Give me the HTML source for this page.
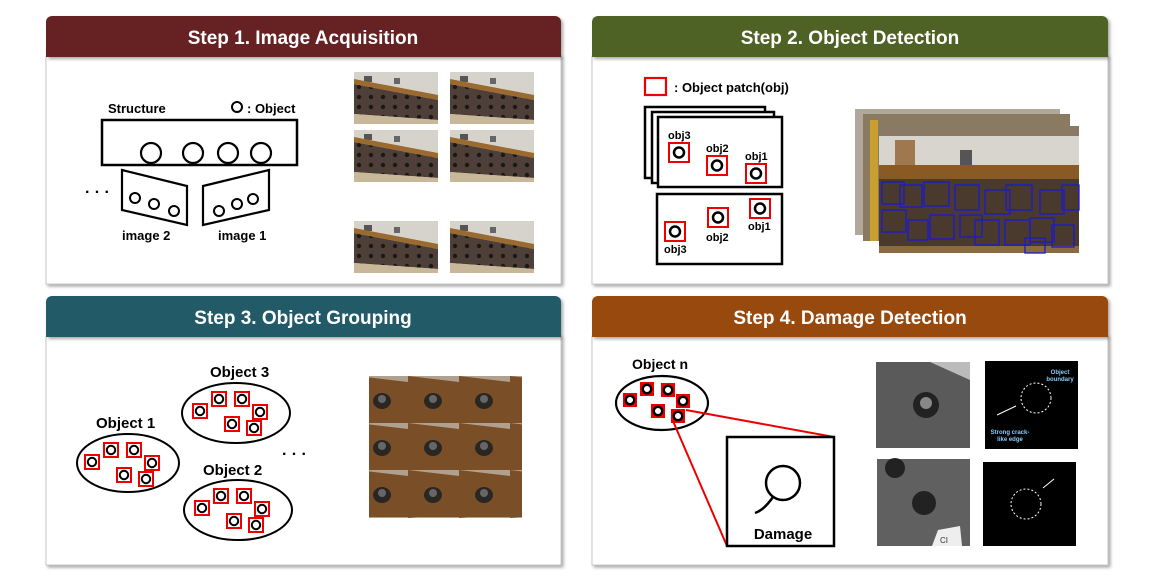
<!DOCTYPE html>
<html><head><meta charset="utf-8"><style>
html,body{margin:0;padding:0;background:#fff;}
svg{display:block;}
text{font-family:"Liberation Sans",Arial,sans-serif;}
.h{font-family:"Liberation Sans",Arial,sans-serif;font-weight:bold;font-size:19px;fill:#fff;}
.b{font-weight:bold;fill:#000;}
</style></head><body>
<svg width="1152" height="576" viewBox="0 0 1152 576" xmlns="http://www.w3.org/2000/svg">
<defs>
<filter id="sh" x="-5%" y="-5%" width="110%" height="115%"><feDropShadow dx="2" dy="2" stdDeviation="1.5" flood-color="#000" flood-opacity="0.35"/></filter>
<g id="pt"><rect x="-7" y="-7" width="14" height="14" fill="#fff" stroke="#e00" stroke-width="2"/><circle r="4.2" fill="none" stroke="#000" stroke-width="2"/></g>
<g id="pf"><rect x="-7" y="-7" width="14" height="14" fill="#e00"/><circle r="4.2" fill="#fff" stroke="#000" stroke-width="2.4"/></g>
<g id="grp">
<use href="#pt" x="-36" y="-2"/><use href="#pt" x="-17" y="-14"/><use href="#pt" x="6" y="-14"/><use href="#pt" x="24" y="-1"/><use href="#pt" x="-4" y="11"/><use href="#pt" x="18" y="15"/>
</g>
<pattern id="bolts" width="12" height="10" patternUnits="userSpaceOnUse"><rect width="12" height="10" fill="#4e4038"/><circle cx="5" cy="5" r="2.2" fill="#1c1816"/></pattern>
<g id="photo">
<rect width="84" height="52" fill="#d6d3cc"/>
<rect x="10" y="4" width="8" height="6" fill="#555"/><rect x="40" y="6" width="6" height="6" fill="#666"/>
<polygon points="0,12 84,28 84,48 0,42" fill="url(#bolts)"/>
<polygon points="0,7 84,23 84,28 0,12" fill="#9a6a2e"/>
<polygon points="0,42 84,48 84,52 0,52" fill="#c9b79a"/>
</g>
<pattern id="rust" width="51" height="47" patternUnits="userSpaceOnUse"><rect width="51" height="47" fill="#7a4e26"/><polygon points="0,0 51,0 51,6" fill="#c8c4bc" opacity="0.7"/><ellipse cx="25" cy="25" rx="9" ry="8" fill="#2a2624"/><circle cx="25" cy="23" r="4" fill="#666"/></pattern>
</defs>

<rect x="46" y="56" width="515" height="228" fill="#fff" stroke="#c8c8c8" filter="url(#sh)"/>
<rect x="592" y="56" width="516" height="228" fill="#fff" stroke="#c8c8c8" filter="url(#sh)"/>
<rect x="46" y="336" width="515" height="229" fill="#fff" stroke="#c8c8c8" filter="url(#sh)"/>
<rect x="592" y="336" width="516" height="229" fill="#fff" stroke="#c8c8c8" filter="url(#sh)"/>

<path d="M46,57 V22 a6,6 0 0 1 6,-6 H555 a6,6 0 0 1 6,6 V57 Z" fill="#662424" filter="url(#sh)"/>
<text class="h" x="303" y="44" text-anchor="middle">Step 1. Image Acquisition</text>
<path d="M592,57 V22 a6,6 0 0 1 6,-6 H1102 a6,6 0 0 1 6,6 V57 Z" fill="#4f6228" filter="url(#sh)"/>
<text class="h" x="850" y="44" text-anchor="middle">Step 2. Object Detection</text>
<path d="M46,337 V302 a6,6 0 0 1 6,-6 H555 a6,6 0 0 1 6,6 V337 Z" fill="#225a68" filter="url(#sh)"/>
<text class="h" x="303" y="324" text-anchor="middle">Step 3. Object Grouping</text>
<path d="M592,337 V302 a6,6 0 0 1 6,-6 H1102 a6,6 0 0 1 6,6 V337 Z" fill="#984807" filter="url(#sh)"/>
<text class="h" x="850" y="324" text-anchor="middle">Step 4. Damage Detection</text>

<!-- Panel 1 -->
<text class="b" x="108" y="113" font-size="13">Structure</text>
<circle cx="237" cy="107" r="5" fill="none" stroke="#000" stroke-width="2"/>
<text class="b" x="247" y="113" font-size="13">: Object</text>
<rect x="102" y="120" width="195" height="45" fill="none" stroke="#000" stroke-width="2.5"/>
<g fill="none" stroke="#000" stroke-width="2.2"><circle cx="151" cy="153" r="10"/><circle cx="193" cy="153" r="10"/><circle cx="228" cy="153" r="10"/><circle cx="261" cy="153" r="10"/></g>
<polygon points="122,170 187,186 187,225 122,210" fill="none" stroke="#000" stroke-width="2.2"/>
<polygon points="203,186 269,170 269,210 203,225" fill="none" stroke="#000" stroke-width="2.2"/>
<g fill="none" stroke="#000" stroke-width="2"><circle cx="135" cy="198" r="5"/><circle cx="154" cy="204" r="5"/><circle cx="174" cy="211" r="5"/><circle cx="219" cy="211" r="5"/><circle cx="237" cy="204" r="5"/><circle cx="253" cy="199" r="5"/></g>
<text class="b" x="85" y="197" font-size="16">· · ·</text>
<text class="b" x="122" y="240" font-size="13">image 2</text>
<text class="b" x="218" y="240" font-size="13">image 1</text>
<use href="#photo" x="354" y="72"/><use href="#photo" x="450" y="72"/>
<use href="#photo" x="354" y="130"/><use href="#photo" x="450" y="130"/>
<use href="#photo" x="354" y="221"/><use href="#photo" x="450" y="221"/>

<!-- Panel 2 -->
<rect x="645" y="78" width="21" height="17" fill="none" stroke="#e00" stroke-width="2.2"/>
<text class="b" x="674" y="92" font-size="13">: Object patch(obj)</text>
<rect x="645" y="107" width="120" height="71" fill="#fff" stroke="#000" stroke-width="2.5"/>
<rect x="652" y="112" width="122" height="71" fill="#fff" stroke="#000" stroke-width="2.5"/>
<rect x="658" y="117" width="124" height="70" fill="#fff" stroke="#000" stroke-width="2.5"/>
<rect x="657" y="194" width="125" height="70" fill="#fff" stroke="#000" stroke-width="2.5"/>
<g fill="none"><rect x="669" y="143" width="20" height="19" stroke="#e00" stroke-width="2"/><circle cx="679" cy="152.5" r="5" stroke="#000" stroke-width="2.5"/>
<rect x="707" y="156" width="20" height="19" stroke="#e00" stroke-width="2"/><circle cx="717" cy="165.5" r="5" stroke="#000" stroke-width="2.5"/>
<rect x="746" y="164" width="20" height="19" stroke="#e00" stroke-width="2"/><circle cx="756" cy="173.5" r="5" stroke="#000" stroke-width="2.5"/>
<rect x="750" y="199" width="20" height="19" stroke="#e00" stroke-width="2"/><circle cx="760" cy="208.5" r="5" stroke="#000" stroke-width="2.5"/>
<rect x="708" y="208" width="20" height="19" stroke="#e00" stroke-width="2"/><circle cx="718" cy="217.5" r="5" stroke="#000" stroke-width="2.5"/>
<rect x="665" y="222" width="20" height="19" stroke="#e00" stroke-width="2"/><circle cx="675" cy="231.5" r="5" stroke="#000" stroke-width="2.5"/></g>
<g class="b" font-size="11"><text x="668" y="139">obj3</text><text x="706" y="152">obj2</text><text x="745" y="160">obj1</text>
<text x="748" y="230">obj1</text><text x="706" y="241">obj2</text><text x="664" y="253">obj3</text></g>
<rect x="855" y="109" width="205" height="126" fill="#b0a898"/>
<rect x="863" y="114" width="207" height="127" fill="#8a7a60"/>
<rect x="870" y="120" width="8" height="121" fill="#c9a030"/>
<rect x="879" y="126" width="200" height="127" fill="#d8d5cf"/>
<rect x="879" y="126" width="200" height="10" fill="#8a7a65"/>
<rect x="895" y="140" width="20" height="25" fill="#a07850"/><rect x="960" y="150" width="12" height="20" fill="#555"/>
<rect x="879" y="165" width="200" height="14" fill="#8a5a24"/>
<rect x="879" y="179" width="200" height="67" fill="#4a3a2e"/>
<rect x="879" y="246" width="200" height="7" fill="#8a6a40"/>
<g fill="none" stroke="#1a1ad0" stroke-width="1.3">
<rect x="882" y="182" width="22" height="22"/><rect x="900" y="185" width="22" height="22"/><rect x="924" y="182" width="25" height="24"/><rect x="955" y="185" width="24" height="25"/><rect x="985" y="190" width="25" height="24"/><rect x="1006" y="185" width="26" height="25"/><rect x="1040" y="190" width="24" height="24"/><rect x="1062" y="185" width="17" height="25"/>
<rect x="882" y="210" width="24" height="22"/><rect x="908" y="220" width="20" height="20"/><rect x="930" y="215" width="24" height="24"/><rect x="960" y="215" width="22" height="22"/><rect x="975" y="220" width="24" height="25"/><rect x="1005" y="220" width="25" height="25"/><rect x="1030" y="218" width="24" height="24"/><rect x="1052" y="225" width="22" height="22"/><rect x="1025" y="238" width="20" height="15"/>
</g>

<!-- Panel 3 -->
<ellipse cx="128" cy="463" rx="51" ry="29" fill="none" stroke="#000" stroke-width="2"/>
<use href="#grp" x="128" y="464"/>
<ellipse cx="236" cy="413" rx="54" ry="30" fill="none" stroke="#000" stroke-width="2"/>
<use href="#grp" x="236" y="413"/>
<ellipse cx="238" cy="510" rx="54" ry="30" fill="none" stroke="#000" stroke-width="2"/>
<use href="#grp" x="238" y="510"/>
<g class="b" font-size="15"><text x="96" y="428">Object 1</text><text x="210" y="377">Object 3</text><text x="203" y="475">Object 2</text></g>
<text class="b" x="282" y="459" font-size="16">· · ·</text>
<rect x="369" y="376" width="153" height="142" fill="url(#rust)"/>

<!-- Panel 4 -->
<text class="b" x="632" y="369" font-size="14">Object n</text>
<ellipse cx="662" cy="403" rx="46" ry="27" fill="none" stroke="#000" stroke-width="2.2"/>
<use href="#pf" x="630" y="400"/><use href="#pf" x="647" y="389"/><use href="#pf" x="668" y="390"/><use href="#pf" x="683" y="401"/><use href="#pf" x="658" y="411"/><use href="#pf" x="678" y="416"/>
<line x1="686" y1="410" x2="834" y2="437" stroke="#e00" stroke-width="2"/>
<line x1="673" y1="421" x2="727" y2="546" stroke="#e00" stroke-width="2"/>
<rect x="727" y="437" width="107" height="109" fill="none" stroke="#000" stroke-width="2.5"/>
<circle cx="783" cy="483" r="17" fill="none" stroke="#000" stroke-width="2.5"/>
<path d="M773,497 Q764,510 755,513" fill="none" stroke="#000" stroke-width="2.5"/>
<text class="b" x="783" y="539" font-size="15" text-anchor="middle">Damage</text>
<rect x="876" y="362" width="94" height="86" fill="#5a5a5a"/>
<polygon points="930,362 970,362 970,380" fill="#bbb"/>
<circle cx="926" cy="405" r="13" fill="#222"/><circle cx="926" cy="403" r="6" fill="#888"/>
<rect x="985" y="361" width="93" height="88" fill="#000"/>
<circle cx="1036" cy="398" r="15" fill="none" stroke="#fff" stroke-width="1" stroke-dasharray="2,2"/>
<path d="M997,415 L1016,406" stroke="#fff" stroke-width="1"/>
<text x="1060" y="374" font-size="6" fill="#8cf" text-anchor="middle" font-weight="bold">Object</text>
<text x="1060" y="381" font-size="6" fill="#8cf" text-anchor="middle" font-weight="bold">boundary</text>
<text x="1010" y="434" font-size="6" fill="#8cf" text-anchor="middle" font-weight="bold">Strong crack-</text>
<text x="1010" y="441" font-size="6" fill="#8cf" text-anchor="middle" font-weight="bold">like edge</text>
<rect x="877" y="459" width="93" height="87" fill="#606060"/>
<circle cx="924" cy="503" r="12" fill="#222"/><circle cx="895" cy="468" r="10" fill="#222"/>
<polygon points="938,530 960,526 962,546 932,546" fill="#eee"/>
<text x="940" y="543" font-size="8" fill="#333">CI</text>
<rect x="983" y="462" width="93" height="84" fill="#000"/>
<circle cx="1026" cy="504" r="15" fill="none" stroke="#fff" stroke-width="1" stroke-dasharray="2,2"/>
<path d="M1043,488 L1054,479" stroke="#fff" stroke-width="1"/>
</svg>
</body></html>
